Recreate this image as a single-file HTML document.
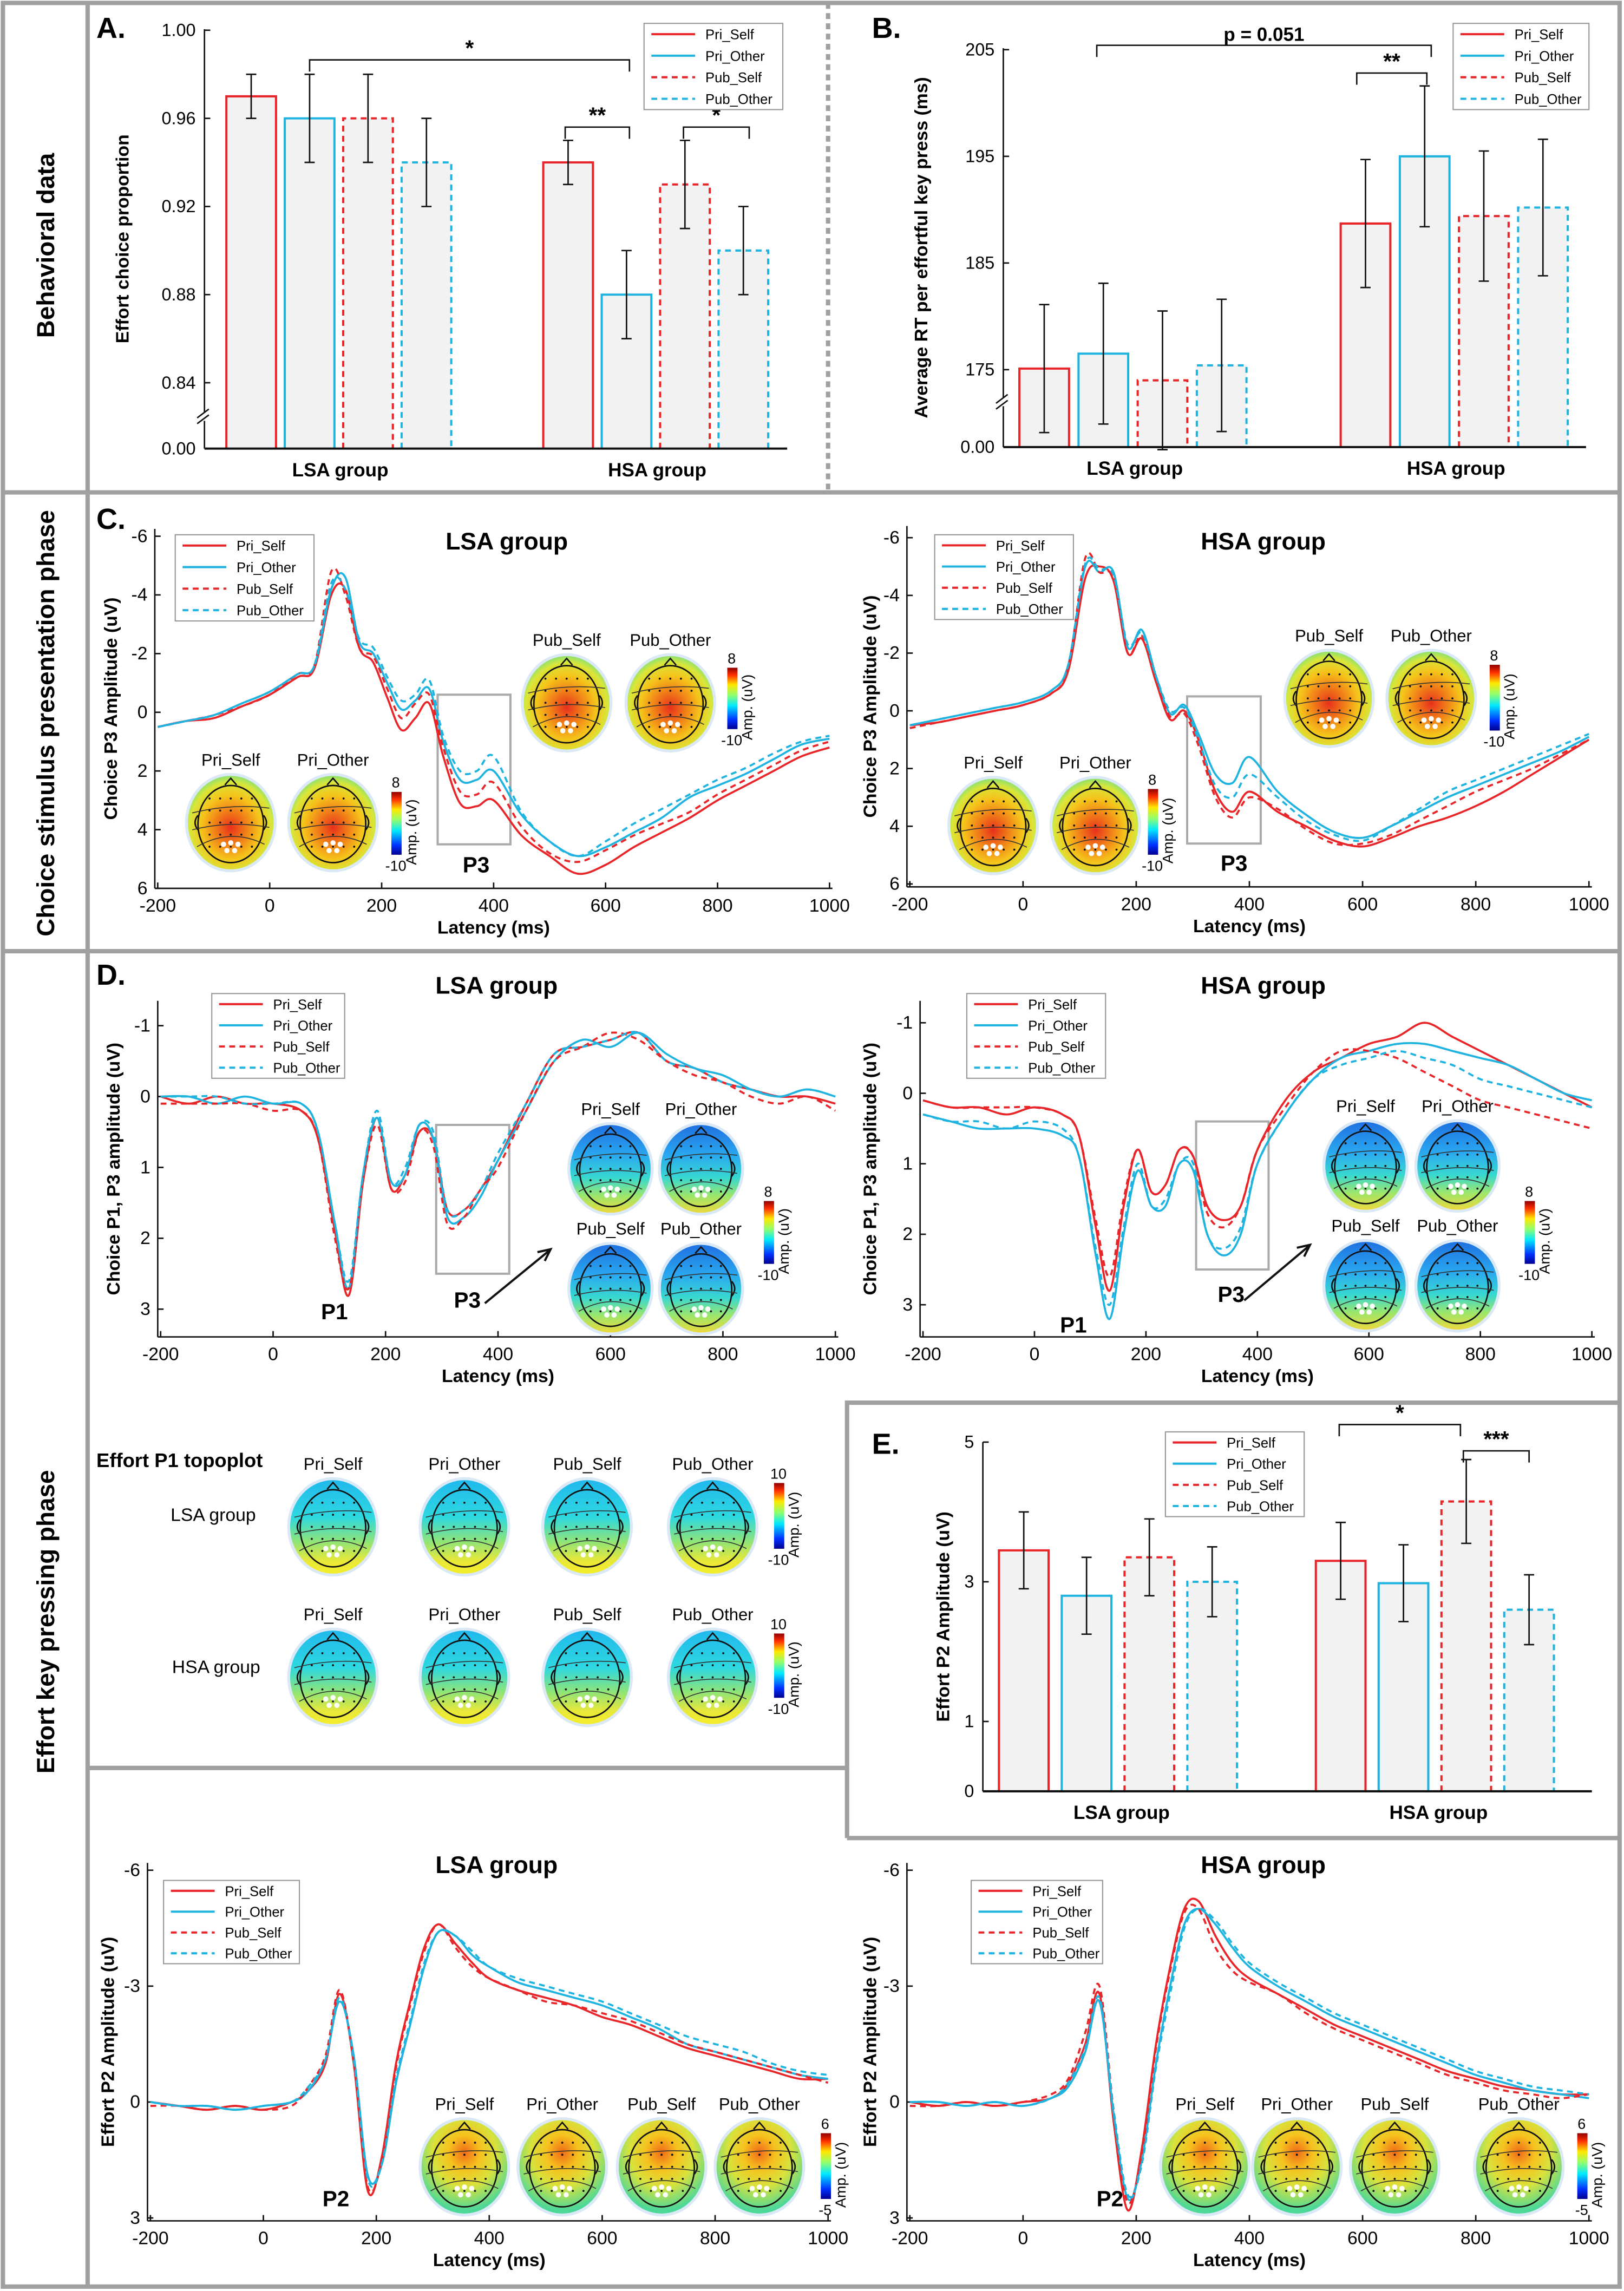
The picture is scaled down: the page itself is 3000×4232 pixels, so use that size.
<!DOCTYPE html>
<html><head><meta charset="utf-8"><style>
html,body{margin:0;padding:0;background:#fff;}
svg{display:block;font-family:"Liberation Sans",Arial,sans-serif;}
</style></head><body>
<svg id="fig" xmlns="http://www.w3.org/2000/svg" width="3000" height="4232" viewBox="0 0 1112 1568" preserveAspectRatio="none">
<defs>
<radialGradient id="gC" cx="0.5" cy="0.55" r="0.55"><stop offset="0" stop-color="#e8301c"/><stop offset="0.3" stop-color="#f07a18"/><stop offset="0.6" stop-color="#f5c31a"/><stop offset="0.85" stop-color="#d8e63a"/><stop offset="1" stop-color="#7fe07a"/></radialGradient>
<linearGradient id="gD" x1="0" y1="0" x2="0" y2="1"><stop offset="0" stop-color="#1f6fe0"/><stop offset="0.35" stop-color="#2aa8f0"/><stop offset="0.6" stop-color="#38d8d0"/><stop offset="0.8" stop-color="#9ee66a"/><stop offset="1" stop-color="#f2d83a"/></linearGradient>
<linearGradient id="gP" x1="0" y1="0" x2="0" y2="1"><stop offset="0" stop-color="#20b8ee"/><stop offset="0.4" stop-color="#2ed8e0"/><stop offset="0.65" stop-color="#8ee478"/><stop offset="0.85" stop-color="#e8e83a"/><stop offset="1" stop-color="#f6ee2a"/></linearGradient>
<radialGradient id="gB" cx="0.5" cy="0.35" r="0.6"><stop offset="0" stop-color="#f06a18"/><stop offset="0.3" stop-color="#f6c21e"/><stop offset="0.6" stop-color="#d8e23c"/><stop offset="1" stop-color="#4ed898"/></radialGradient>
<linearGradient id="jet" x1="0" y1="1" x2="0" y2="0"><stop offset="0" stop-color="#00008f"/><stop offset="0.15" stop-color="#0030ff"/><stop offset="0.38" stop-color="#00e8ff"/><stop offset="0.55" stop-color="#8fff70"/><stop offset="0.72" stop-color="#ffe800"/><stop offset="0.88" stop-color="#ff3000"/><stop offset="1" stop-color="#8f0000"/></linearGradient>
</defs>
<g id="frame" fill="none" stroke="#a0a0a0" stroke-width="3">
<rect x="2" y="2" width="1107" height="1563"/>
<line x1="60" y1="2" x2="60" y2="1565"/>
<line x1="2" y1="337" x2="1109" y2="337"/>
<line x1="2" y1="651" x2="1109" y2="651"/>
<polyline points="60,1210 580,1210 580,960 1109,960"/>
<line x1="580" y1="1258" x2="1109" y2="1258"/>
<line x1="580" y1="1210" x2="580" y2="1258"/>
<line x1="567" y1="2" x2="567" y2="337" stroke-dasharray="4,3"/>
</g>
<g font-weight="bold" font-size="17" text-anchor="middle">
<text transform="translate(37,168) rotate(-90)">Behavioral data</text>
<text transform="translate(37,495) rotate(-90)">Choice stimulus presentation phase</text>
<text transform="translate(37,1110) rotate(-90)">Effort key pressing phase</text>
</g>
<g font-weight="bold" font-size="20">
<text x="66" y="26">A.</text>
<text x="597" y="26">B.</text>
<text x="66" y="362">C.</text>
<text x="66" y="674">D.</text>
<text x="597" y="995">E.</text>
</g>
<g id="root"></g>
</svg>
<script>
const NS='http://www.w3.org/2000/svg';
const root=document.getElementById('root');
function mk(tag,attrs,parent){const e=document.createElementNS(NS,tag);for(const k in attrs)e.setAttribute(k,attrs[k]);(parent||root).appendChild(e);return e;}
function txt(s,x,y,size,opts,parent){const e=mk('text',Object.assign({x:x,y:y,'font-size':size},opts||{}),parent);e.textContent=s;return e;}

const RED='#e8262a', CYAN='#1fb3e0';
const seriesNames=['Pri_Self','Pri_Other','Pub_Self','Pub_Other'];
const seriesColors=[RED,CYAN,RED,CYAN];
const seriesDash=['none','none','4,3','4,3'];
const groups=['LSA group','HSA group'];

// ---- Bar data ----
const A_vals=[[0.97,0.96,0.96,0.94],[0.94,0.88,0.93,0.90]];
const A_err=[[0.01,0.02,0.02,0.02],[0.01,0.02,0.02,0.02]];
const A_ticks=[0.84,0.88,0.92,0.96,1.00];
const B_vals=[[175.1,176.5,174.0,175.4],[188.7,195.0,189.4,190.2]];
const B_err=[[6.0,6.6,6.5,6.2],[6.0,6.6,6.1,6.4]];
const B_ticks=[175,185,195,205];
const E_vals=[[3.45,2.8,3.35,3.0],[3.3,2.98,4.15,2.6]];
const E_err=[[0.55,0.55,0.55,0.5],[0.55,0.55,0.6,0.5]];
const E_ticks=[0,1,3,5];

// ---- ERP data (time in ms, amplitude in uV) ----
const times=[-200,-150,-100,-50,0,50,80,110,135,160,185,210,235,260,285,310,340,370,400,450,500,550,600,650,700,750,800,850,900,950,1000];
const C_LSA=[
[0.5,0.3,0.2,-0.2,-0.6,-1.2,-1.5,-4.0,-4.2,-2.2,-1.7,-0.5,0.6,0.2,-0.3,1.5,3.1,3.2,3.0,4.2,4.9,5.5,5.2,4.6,4.1,3.6,3.0,2.5,2.0,1.5,1.2],
[0.5,0.3,0.1,-0.3,-0.7,-1.3,-1.6,-4.2,-4.6,-2.4,-2.0,-1.0,-0.1,-0.4,-0.8,1.0,2.3,2.3,2.0,3.5,4.4,4.9,4.6,4.1,3.6,2.9,2.5,2.1,1.6,1.1,0.9],
[0.5,0.3,0.1,-0.2,-0.6,-1.3,-1.6,-4.8,-4.0,-2.2,-1.9,-0.8,0.2,-0.3,-0.6,1.2,2.7,2.8,2.4,3.9,4.8,5.1,4.7,4.2,3.8,3.4,2.8,2.3,1.8,1.3,1.0],
[0.5,0.3,0.1,-0.3,-0.7,-1.3,-1.6,-4.4,-4.2,-2.5,-2.2,-1.2,-0.4,-0.6,-1.1,0.8,2.0,2.0,1.5,3.4,4.4,4.9,4.4,3.8,3.3,2.8,2.3,1.9,1.4,1.0,0.8]];
const C_HSA=[
[0.5,0.4,0.2,0.0,-0.2,-0.6,-1.4,-4.6,-5.0,-4.5,-2.0,-2.5,-1.0,0.3,0.0,1.0,2.8,3.5,2.8,3.5,4.0,4.5,4.7,4.4,4.0,3.7,3.3,2.8,2.2,1.6,1.0],
[0.5,0.3,0.1,-0.1,-0.3,-0.7,-1.6,-5.0,-4.8,-4.8,-2.2,-2.8,-1.2,0.1,-0.2,0.8,2.2,2.5,1.6,2.8,3.6,4.2,4.4,4.0,3.5,3.0,2.6,2.2,1.8,1.4,0.9],
[0.6,0.4,0.2,0.0,-0.2,-0.6,-1.5,-5.3,-4.8,-4.6,-2.0,-2.6,-1.1,0.2,0.1,1.2,3.0,3.7,3.0,3.4,4.1,4.6,4.6,4.3,3.8,3.3,2.8,2.4,2.0,1.5,1.0],
[0.5,0.3,0.1,-0.1,-0.3,-0.7,-1.6,-5.1,-4.9,-4.7,-2.3,-2.7,-1.2,0.0,-0.1,1.0,2.6,3.0,2.2,3.0,3.8,4.3,4.5,4.0,3.4,2.8,2.4,2.0,1.6,1.2,0.8]];
const D_LSA=[
[0.0,0.1,0.0,0.1,0.1,0.2,0.6,1.9,2.8,1.2,0.3,1.3,1.1,0.5,0.6,1.6,1.6,1.3,0.9,0.1,-0.6,-0.7,-0.8,-0.9,-0.5,-0.4,-0.2,-0.1,0.0,0.0,0.1],
[0.0,0.0,0.1,0.0,0.1,0.1,0.5,1.8,2.7,1.1,0.3,1.2,1.1,0.4,0.6,1.7,1.7,1.4,0.9,0.2,-0.5,-0.8,-0.7,-0.9,-0.6,-0.4,-0.3,-0.1,0.0,-0.1,0.0],
[0.1,0.1,0.1,0.1,0.2,0.2,0.6,2.0,2.7,1.2,0.4,1.3,1.2,0.5,0.7,1.8,1.7,1.3,1.0,0.2,-0.5,-0.7,-0.9,-0.8,-0.5,-0.3,-0.2,0.0,0.1,0.0,0.2],
[0.0,0.0,0.0,0.1,0.1,0.1,0.5,1.8,2.6,1.1,0.2,1.2,1.0,0.4,0.5,1.6,1.6,1.3,0.8,0.1,-0.6,-0.7,-0.8,-0.9,-0.5,-0.4,-0.2,-0.1,0.0,-0.1,0.0]];
const D_HSA=[
[0.1,0.2,0.2,0.3,0.2,0.3,0.6,1.9,2.8,1.6,0.8,1.4,1.3,0.8,0.9,1.6,1.8,1.6,0.8,0.1,-0.3,-0.5,-0.7,-0.8,-1.0,-0.8,-0.6,-0.4,-0.2,0.0,0.2],
[0.3,0.4,0.5,0.5,0.5,0.6,0.9,2.3,3.2,2.0,1.1,1.6,1.6,1.0,1.1,2.0,2.3,2.0,1.0,0.3,-0.2,-0.5,-0.6,-0.7,-0.7,-0.6,-0.5,-0.4,-0.2,0.0,0.1],
[0.1,0.2,0.2,0.2,0.2,0.3,0.6,1.8,2.6,1.5,0.8,1.4,1.3,0.8,0.9,1.7,1.9,1.6,0.8,0.2,-0.3,-0.6,-0.6,-0.5,-0.3,-0.1,0.1,0.2,0.3,0.4,0.5],
[0.3,0.4,0.4,0.5,0.4,0.5,0.9,2.2,3.0,1.9,1.0,1.6,1.5,1.0,1.0,2.0,2.2,1.9,1.0,0.3,-0.2,-0.4,-0.5,-0.6,-0.5,-0.4,-0.2,-0.1,0.0,0.1,0.2]];
const F_LSA=[
[0.0,0.1,0.2,0.1,0.2,0.0,-0.3,-1.0,-2.8,-1.0,2.3,1.4,-1.0,-2.6,-4.0,-4.6,-4.1,-3.6,-3.2,-2.9,-2.7,-2.5,-2.2,-2.0,-1.7,-1.4,-1.2,-1.0,-0.8,-0.6,-0.6],
[0.0,0.1,0.1,0.2,0.1,0.0,-0.3,-1.1,-2.6,-1.2,1.9,1.6,-0.5,-2.0,-3.5,-4.4,-4.3,-3.8,-3.5,-3.1,-2.9,-2.7,-2.5,-2.2,-1.9,-1.5,-1.3,-1.1,-0.9,-0.7,-0.6],
[0.1,0.1,0.2,0.1,0.2,0.1,-0.4,-1.2,-2.9,-1.0,2.2,1.5,-0.9,-2.5,-3.9,-4.6,-4.0,-3.5,-3.2,-2.9,-2.6,-2.5,-2.3,-2.1,-1.8,-1.5,-1.3,-1.1,-0.9,-0.7,-0.5],
[0.0,0.1,0.1,0.2,0.1,0.0,-0.4,-1.1,-2.7,-1.1,2.0,1.6,-0.6,-2.1,-3.6,-4.4,-4.3,-3.9,-3.5,-3.2,-3.0,-2.8,-2.6,-2.3,-2.0,-1.7,-1.5,-1.3,-1.0,-0.8,-0.7]];
const F_HSA=[
[0.0,0.1,0.0,0.1,0.0,-0.1,-0.5,-1.5,-2.8,0.5,2.8,1.2,-1.5,-3.5,-5.0,-5.2,-4.3,-3.6,-3.2,-2.8,-2.4,-2.0,-1.7,-1.4,-1.1,-0.8,-0.6,-0.4,-0.3,-0.2,-0.2],
[0.0,0.0,0.1,0.0,0.1,-0.1,-0.4,-1.3,-2.6,0.3,2.5,1.5,-1.0,-3.0,-4.6,-5.0,-4.6,-4.0,-3.5,-3.0,-2.6,-2.2,-1.9,-1.6,-1.3,-1.0,-0.7,-0.5,-0.3,-0.2,-0.1],
[0.1,0.1,0.0,0.1,0.0,-0.2,-0.6,-1.8,-3.0,0.2,2.6,1.3,-1.4,-3.4,-4.9,-5.0,-4.0,-3.4,-3.1,-2.8,-2.3,-1.9,-1.6,-1.3,-1.0,-0.7,-0.5,-0.3,-0.2,-0.1,-0.2],
[0.0,0.0,0.1,0.0,0.1,-0.1,-0.5,-1.4,-2.7,0.2,2.4,1.6,-0.9,-2.8,-4.5,-5.0,-4.7,-4.1,-3.6,-3.1,-2.7,-2.3,-2.0,-1.7,-1.4,-1.1,-0.8,-0.6,-0.4,-0.3,-0.2]];
const latTicks=[-200,0,200,400,600,800,1000];

// ---- legend ----
function legend(x,y,w,h,fs){
  const g=mk('g',{});
  
  
  mk('rect',{x:x,y:y,width:w,height:h,fill:'#fff',stroke:'#999','stroke-width':0.8},g);
  const step=h/4;
  for(let i=0;i<4;i++){
    const yy=y+step*(i+0.5);
    const l=mk('line',{x1:x+5,y1:yy,x2:x+35,y2:yy,stroke:seriesColors[i],'stroke-width':1.5,'stroke-dasharray':seriesDash[i]},g);
    
    
    const t=txt(seriesNames[i],x+42,yy+3.5,fs||9.5,{},g);
    
    
  }
}

// ---- bar chart ----
function barChart(c){
  const g=mk('g',{});
  
  
  const ax=c.axisX, base=c.base;
  for(let gi=0;gi<2;gi++){
    for(let s=0;s<4;s++){
      const v=c.vals[gi][s], e=c.err[gi][s];
      const x=c.gx[gi]+s*c.step, yt=c.y(v);
      const r=mk('rect',{x:x,y:yt,width:c.w,height:base-yt,fill:'#f2f2f2',stroke:'none'},g);
      
      
      mk('polyline',{points:`${x},${base} ${x},${yt} ${x+c.w},${yt} ${x+c.w},${base}`,fill:'none',stroke:seriesColors[s],'stroke-width':1.5,'stroke-dasharray':seriesDash[s]},g);
      const cx=x+c.w/2, y1=c.y(v+e), y2=c.y(v-e);
      const eb=mk('path',{d:`M${cx},${y1}V${y2}M${cx-3.5},${y1}H${cx+3.5}M${cx-3.5},${y2}H${cx+3.5}`,stroke:'#111','stroke-width':1,fill:'none'},g);
      
      
    }
    const gl=txt(groups[gi],c.gx[gi]+2*c.step-2,base+19,13,{'font-weight':'bold','text-anchor':'middle'},g);
    
    
  }
  mk('line',{x1:ax,y1:base,x2:c.axisEnd,y2:base,stroke:'#111','stroke-width':1.5},g);
  mk('line',{x1:ax,y1:c.top,x2:ax,y2:base,stroke:'#111','stroke-width':1},g);
  c.ticks.forEach(t=>{
    const yy=c.y(t);
    mk('line',{x1:ax,y1:yy,x2:ax+4,y2:yy,stroke:'#111'},g);
    const tl=txt(c.fmt(t),ax-6,yy+4,12,{'text-anchor':'end'},g);
    
    
  });
  if(c.zeroLabel){const z=txt(c.zeroLabel,ax-6,base+4,12,{'text-anchor':'end'},g);}
  if(c.brk){mk('rect',{x:ax-5,y:c.brk-3,width:10,height:6,fill:'#fff'},g);mk('path',{d:`M${ax-5},${c.brk+1}l8,-6M${ax-5},${c.brk+5}l8,-6`,stroke:'#111'},g);}
  const yt=txt(c.ytitle,0,0,12.5,{'font-weight':'bold','text-anchor':'middle',transform:`translate(${c.ytx},${(c.top+base)/2}) rotate(-90)`},g);
  
  
  return g;
}
function bracket(x1,x2,y,label,fs){
  const g=mk('g',{});
  
  
  mk('path',{d:`M${x1},${y+8}V${y}H${x2}V${y+8}`,fill:'none',stroke:'#111','stroke-width':1},g);
  txt(label,(x1+x2)/2,y-3,fs||15,{'font-weight':'bold','text-anchor':'middle'},g);
}
barChart({name:'panel-a-bar-chart',vals:A_vals,err:A_err,ticks:A_ticks,y:v=>81+(0.96-v)*1508,base:307,axisX:140,axisEnd:539,top:20,gx:[155,372],step:40,w:34,fmt:t=>t.toFixed(2),zeroLabel:'0.00',brk:285,ytitle:'Effort choice proportion',ytx:88});
bracket(212,431,41,'*');bracket(387,431,87,'**');bracket(468,513,87,'*');
legend(441,16,95,59);
barChart({name:'panel-b-bar-chart',vals:B_vals,err:B_err,ticks:B_ticks,y:v=>107+(195-v)*7.3,base:306,axisX:687,axisEnd:1086,top:33,gx:[698,918],step:40.5,w:34,fmt:t=>String(t),zeroLabel:'0.00',brk:275,ytitle:'Average RT per effortful key press (ms)',ytx:635});
bracket(751,980,31,'p = 0.051',13);bracket(929,977,50,'**');
legend(995,16,93,59);
barChart({name:'panel-e-bar-chart',vals:E_vals,err:E_err,ticks:E_ticks,y:v=>1226-v*47.8,base:1226,axisX:673,axisEnd:1090,top:987,gx:[684,901],step:43,w:34,fmt:t=>String(t),ytitle:'Effort P2 Amplitude (uV)',ytx:650});
bracket(917,1000,975,'*');bracket(1002,1047,993,'***');
legend(798,980,95,58);

// ---- ERP plots ----
function smooth(pts){
  let d=`M${pts[0][0]},${pts[0][1]}`;
  for(let i=0;i<pts.length-1;i++){
    const p0=pts[i-1]||pts[i],p1=pts[i],p2=pts[i+1],p3=pts[i+2]||p2;
    d+=`C${p1[0]+(p2[0]-p0[0])/6},${p1[1]+(p2[1]-p0[1])/6} ${p2[0]-(p3[0]-p1[0])/6},${p2[1]-(p3[1]-p1[1])/6} ${p2[0]},${p2[1]}`;
  }
  return d;
}
function erp(c){
  const g=mk('g',{});
  
  
  const X=t=>c.x0+(t+200)*(c.x1-c.x0)/1200;
  const Y=v=>c.ya+(v-c.va)*(c.yb-c.ya)/(c.vb-c.va);
  const axX=c.x0-2;
  mk('line',{x1:axX,y1:c.top,x2:axX,y2:c.bottom,stroke:'#111','stroke-width':1},g);
  mk('line',{x1:axX,y1:c.bottom,x2:c.x1+2,y2:c.bottom,stroke:'#111','stroke-width':1},g);
  latTicks.forEach(t=>{
    mk('line',{x1:X(t),y1:c.bottom,x2:X(t),y2:c.bottom-4,stroke:'#111'},g);
    const l=txt(String(t),X(t),c.bottom+16,12.5,{'text-anchor':'middle'},g);
    
    
  });
  c.yticks.forEach(v=>{
    mk('line',{x1:axX,y1:Y(v),x2:axX+4,y2:Y(v),stroke:'#111'},g);
    const l=txt(String(v),axX-5,Y(v)+4,12.5,{'text-anchor':'end'},g);
    
    
  });
  const xt=txt('Latency (ms)',(c.x0+c.x1)/2,c.bottom+31,12.5,{'font-weight':'bold','text-anchor':'middle'},g);
  
  
  const yt=txt(c.ytitle,0,0,12.5,{'font-weight':'bold','text-anchor':'middle',transform:`translate(${c.ytx},${(c.top+c.bottom)/2}) rotate(-90)`},g);
  
  
  const tt=txt(c.title,c.tx,c.ty,16.5,{'font-weight':'bold','text-anchor':'middle'},g);
  
  
  if(c.box){const b=mk('rect',{x:X(c.box[0]),y:Y(c.box[1]),width:X(c.box[2])-X(c.box[0]),height:Y(c.box[3])-Y(c.box[1]),fill:'none',stroke:'#aaa','stroke-width':1.5},g);}
  c.data.forEach((vals,s)=>{
    const pts=times.map((t,i)=>[X(t),Y(vals[i])]);
    const p=mk('path',{d:smooth(pts),fill:'none',stroke:seriesColors[s],'stroke-width':1.4,'stroke-dasharray':seriesDash[s]},g);
    
    
  });
  (c.labels||[]).forEach(L=>{const l=txt(L[0],L[1],L[2],15,{'font-weight':'bold','text-anchor':'middle'},g);});
  return g;
}
erp({name:'choice-p3-lsa',data:C_LSA,x0:108,x1:568,ya:367,yb:608,va:-6,vb:6,top:362,bottom:608,yticks:[-6,-4,-2,0,2,4,6],ytitle:'Choice P3 Amplitude (uV)',ytx:80,title:'LSA group',tx:347,ty:376,box:[300,-0.6,430,4.5],labels:[['P3',326,597]]});
erp({name:'choice-p3-hsa',data:C_HSA,x0:623,x1:1088,ya:368,yb:605,va:-6,vb:6,top:360,bottom:607,yticks:[-6,-4,-2,0,2,4,6],ytitle:'Choice P3 Amplitude (uV)',ytx:600,title:'HSA group',tx:865,ty:376,box:[290,-0.5,420,4.6],labels:[['P3',845,596]]});
erp({name:'choice-p1-p3-lsa',data:D_LSA,x0:110,x1:572,ya:702,yb:896,va:-1,vb:3,top:685,bottom:915,yticks:[-1,0,1,2,3],ytitle:'Choice P1, P3 amplitude  (uV)',ytx:82,title:'LSA group',tx:340,ty:680,box:[290,0.4,420,2.5],labels:[['P1',229,903],['P3',320,895]]});
erp({name:'choice-p1-p3-hsa',data:D_HSA,x0:632,x1:1090,ya:700,yb:893,va:-1,vb:3,top:685,bottom:915,yticks:[-1,0,1,2,3],ytitle:'Choice P1, P3 amplitude  (uV)',ytx:600,title:'HSA group',tx:865,ty:680,box:[290,0.4,420,2.5],labels:[['P1',735,912],['P3',843,891]]});
erp({name:'effort-p2-lsa',data:F_LSA,x0:103,x1:567,ya:1280,yb:1518,va:-6,vb:3,top:1275,bottom:1520,yticks:[-6,-3,0,3],ytitle:'Effort P2 Amplitude (uV)',ytx:78,title:'LSA group',tx:340,ty:1282,labels:[['P2',230,1510]]});
erp({name:'effort-p2-hsa',data:F_HSA,x0:623,x1:1088,ya:1280,yb:1518,va:-6,vb:3,top:1275,bottom:1520,yticks:[-6,-3,0,3],ytitle:'Effort P2 Amplitude (uV)',ytx:600,title:'HSA group',tx:865,ty:1282,labels:[['P2',760,1510]]});
legend(120,366,95,59);legend(640,366,95,58);legend(145,680,91,58);legend(662,680,95,58);legend(112,1287,93,57);legend(665,1287,90,57);

// ---- topoplots ----
function topo(x,y,r,grad,label,name){
  const g=mk('g',{});
  
  
  mk('ellipse',{cx:x,cy:y,rx:r*0.92,ry:r,fill:'url(#'+grad+')',stroke:'#dbe9f7','stroke-width':2},g);
  mk('ellipse',{cx:x,cy:y+1,rx:r*0.68,ry:r*0.8,fill:'none',stroke:'#111','stroke-width':1},g);
  mk('path',{d:`M${x-4},${y-r*0.78}L${x},${y-r*0.92}L${x+4},${y-r*0.78}`,fill:'none',stroke:'#111','stroke-width':1},g);
  mk('path',{d:`M${x-r*0.68},${y-5}q-4,5 0,10M${x+r*0.68},${y-5}q4,5 0,10`,fill:'none',stroke:'#111','stroke-width':1},g);
  mk('path',{d:`M${x-r*0.8},${y-r*0.2}Q${x},${y-r*0.4} ${x+r*0.8},${y-r*0.3}M${x-r*0.8},${y+r*0.15}Q${x},${y-r*0.05} ${x+r*0.8},${y+r*0.1}M${x-r*0.7},${y+r*0.5}Q${x},${y+r*0.1} ${x+r*0.7},${y+r*0.45}`,fill:'none',stroke:'#333','stroke-width':0.6},g);
  for(let i=-2;i<=2;i++)for(let j=-2;j<=2;j++)mk('circle',{cx:x+i*r*0.22,cy:y+j*r*0.25,r:0.7,fill:'#111'},g);
  [[-0.15,0.45],[0,0.42],[0.15,0.45],[-0.08,0.58],[0.08,0.58]].forEach(p=>mk('circle',{cx:x+p[0]*r,cy:y+p[1]*r,r:1.8,fill:'#fff'},g));
  if(label){const t=txt(label,x,y-r-6,11.5,{'text-anchor':'middle'},g);}
}
function cbar(x,y1,y2,top,bot){
  const g=mk('g',{});
  
  
  mk('rect',{x:x,y:y1,width:7,height:y2-y1,fill:'url(#jet)'},g);
  txt(top,x+3,y1-3,10,{'text-anchor':'middle'},g);
  txt(bot,x+3,y2+11,10,{'text-anchor':'middle'},g);
  txt('Amp. (uV)',0,0,10,{'text-anchor':'middle',transform:`translate(${x+17},${(y1+y2)/2+6}) rotate(-90)`},g);
}
// C
topo(388,481,33,'gC','Pub_Self','topo-c-lsa-pub-self');topo(459,481,33,'gC','Pub_Other','topo-c-lsa-pub-other');cbar(498,457,499,'8','-10');
topo(158,563,33,'gC','Pri_Self','topo-c-lsa-pri-self');topo(228,563,33,'gC','Pri_Other','topo-c-lsa-pri-other');cbar(268,542,585,'8','-10');
topo(910,478,33,'gC','Pub_Self','topo-c-hsa-pub-self');topo(980,478,33,'gC','Pub_Other','topo-c-hsa-pub-other');cbar(1020,455,500,'8','-10');
topo(680,565,33,'gC','Pri_Self','topo-c-hsa-pri-self');topo(750,565,33,'gC','Pri_Other','topo-c-hsa-pri-other');cbar(786,540,585,'8','-10');
// D
topo(418,800,31,'gD','Pri_Self','topo-d-lsa-pri-self');topo(480,800,31,'gD','Pri_Other','topo-d-lsa-pri-other');
topo(418,882,31,'gD','Pub_Self','topo-d-lsa-pub-self');topo(480,882,31,'gD','Pub_Other','topo-d-lsa-pub-other');cbar(523,822,865,'8','-10');
topo(935,798,31,'gD','Pri_Self','topo-d-hsa-pri-self');topo(998,798,31,'gD','Pri_Other','topo-d-hsa-pri-other');
topo(935,880,31,'gD','Pub_Self','topo-d-hsa-pub-self');topo(998,880,31,'gD','Pub_Other','topo-d-hsa-pub-other');cbar(1044,822,865,'8','-10');
const ar1=mk('path',{d:'M332,892L376,856M368,857L377,855L373,863',fill:'none',stroke:'#111','stroke-width':1.5});


const ar2=mk('path',{d:'M852,890L896,853M888,854L897,852L893,860',fill:'none',stroke:'#111','stroke-width':1.5});


// P1 topoplot
const p1t=txt('Effort P1 topoplot',66,1004,13.5,{'font-weight':'bold'});


const lg1=txt('LSA group',146,1041,12.5,{'text-anchor':'middle'});


const lg2=txt('HSA group',148,1145,12.5,{'text-anchor':'middle'});


[228,318,402,488].forEach((x,i)=>{topo(x,1045,33,'gP',seriesNames[i],'topo-p1-lsa-'+i);topo(x,1148,33,'gP',seriesNames[i],'topo-p1-hsa-'+i);});
cbar(530,1015,1060,'10','-10');cbar(530,1118,1162,'10','-10');
// bottom P2
['Pri_Self','Pri_Other','Pub_Self','Pub_Other'].forEach((n,i)=>{topo([318,385,453,520][i],1483,33,'gB',n,'topo-p2-lsa-'+i);topo([825,888,955,1040][i],1483,33,'gB',n,'topo-p2-hsa-'+i);});
cbar(562,1460,1505,'6','-5');cbar(1080,1460,1505,'6','-5');
</script>
</body></html>
